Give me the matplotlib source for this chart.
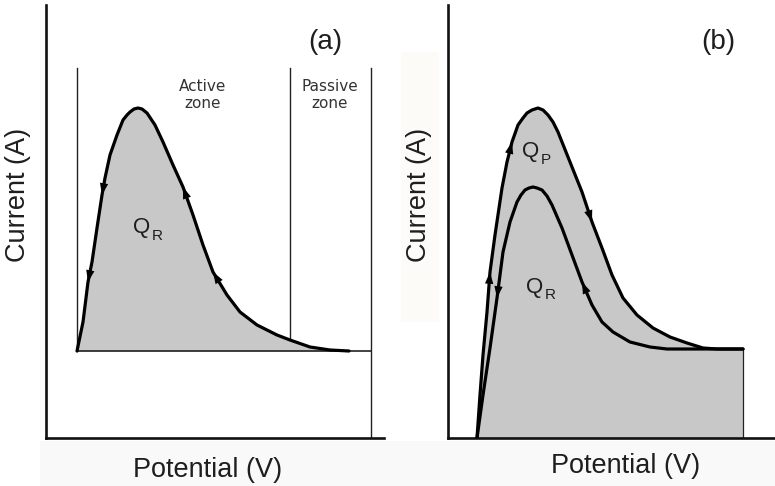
import matplotlib
matplotlib.use("Agg")
import matplotlib.pyplot as plt
from matplotlib.patches import Rectangle

# ---------------- data (arbitrary units) ----------------
# Panel (a): single reactivation curve
a_pot = [31, 37, 42, 46, 51, 56, 59, 64, 71, 77, 81, 84, 88, 92, 96, 101, 109, 117,
         127, 137, 147, 157, 167, 181, 194, 211, 231, 244, 264, 284, 303]
a_cur = [87, 116, 156, 176, 210, 243, 260, 283, 303, 318, 323, 326, 329, 330, 329,
         325, 313, 296, 273, 251, 223, 193, 166, 143, 126, 113, 103, 98, 91, 88, 87]
a_box_left, a_box_right, a_zone_split = 31, 325, 244
a_base, a_box_top = 87, 370

# Panel (b): outer (forward, Q_P) and inner (reverse, Q_R) curves
b_out_pot = [29, 32, 35, 39, 42, 47, 54, 59, 64, 70, 75, 79, 84, 90, 95, 100, 105,
             110, 122, 134, 144, 154, 164, 175, 189, 205, 222, 239, 255, 269, 295]
b_out_cur = [0, 43, 83, 126, 166, 203, 250, 276, 296, 313, 320, 325, 328, 330, 328,
             323, 316, 306, 276, 246, 216, 190, 163, 140, 123, 110, 101, 95, 90, 89, 89]
b_in_pot = [29, 35, 42, 49, 55, 62, 69, 73, 77, 81, 85, 89, 94, 99, 104, 114, 124,
            134, 144, 154, 165, 182, 202, 219, 245, 295]
b_in_cur = [0, 43, 90, 140, 186, 216, 236, 243, 248, 250, 251, 250, 248, 242, 233,
            210, 183, 156, 133, 116, 106, 96, 91, 89, 89, 89]

LABEL_FONT = ['Liberation Sans', 'DejaVu Sans']
FILL = '#c8c8c8'
TXT = '#1e1e1e'

W, H = 775, 486
fig = plt.figure(figsize=(W / 100, H / 100), dpi=100)
fig.patch.set_facecolor('white')

# faint background strips of the original image
bg = fig.add_axes([0, 0, 1, 1], zorder=-5)
bg.set_xlim(0, W); bg.set_ylim(H, 0); bg.axis('off')
bg.add_patch(Rectangle((40, 441), W - 40, 45, color='#f9f9f9', lw=0))
bg.add_patch(Rectangle((401, 52), 38, 270, color='#fdfbf8', lw=0))


def make_axes(px_left, px_right, px_top=5, px_bottom=438):
    ax = fig.add_axes([px_left / W, (H - px_bottom) / H,
                       (px_right - px_left) / W, (px_bottom - px_top) / H])
    ax.set_xlim(0, px_right - px_left)
    ax.set_ylim(0, px_bottom - px_top)
    ax.patch.set_alpha(0)
    for s in ('top', 'right'):
        ax.spines[s].set_visible(False)
    for s in ('left', 'bottom'):
        ax.spines[s].set_linewidth(1.9)
        ax.spines[s].set_color('#111111')
    ax.set_xticks([]); ax.set_yticks([])
    return ax


def arrow(ax, xs, ys, i, up):
    # arrow head placed on the curve segment between points i and i+1
    pa, pb = (xs[i], ys[i]), (xs[i + 1], ys[i + 1])
    lo, hi = (pa, pb) if pa[1] < pb[1] else (pb, pa)
    p0, p1 = (lo, hi) if up else (hi, lo)
    ax.annotate('', xy=p1, xytext=p0,
                arrowprops=dict(arrowstyle='-|>,head_length=0.85,head_width=0.3',
                                color='black', lw=0, shrinkA=0, shrinkB=0),
                zorder=6)


def curve(ax, xs, ys):
    ax.plot(xs, ys, color='black', lw=2.3, solid_joinstyle='round',
            solid_capstyle='round', zorder=3)


# ---------------- panel (a) ----------------
axa = make_axes(46, 384)
axa.fill_between(a_pot, a_cur, a_base, color=FILL, lw=0, zorder=1)
axa.plot([a_box_left, a_box_left], [a_base, a_box_top], color='#222', lw=1.0, zorder=2)
axa.plot([a_box_right, a_box_right], [0, a_box_top], color='#222', lw=1.0, zorder=2)
axa.plot([a_zone_split, a_zone_split], [a_cur[a_pot.index(a_zone_split)], a_box_top],
         color='#222', lw=1.0, zorder=2)
axa.plot([a_box_left, a_box_right], [a_base, a_base], color='#222', lw=1.2, zorder=2)
curve(axa, a_pot, a_cur)
arrow(axa, a_pot, a_cur, 5, up=False)
arrow(axa, a_pot, a_cur, 2, up=False)
arrow(axa, a_pot, a_cur, 19, up=True)
arrow(axa, a_pot, a_cur, 22, up=True)

axa.text(279, 396, '(a)', ha='center', va='center', fontsize=20,
         family=LABEL_FONT, color=TXT)
axa.text(157, 343, 'Active\nzone', ha='center', va='center', fontsize=11,
         color='#333', linespacing=1.1)
axa.text(284, 343, 'Passive\nzone', ha='center', va='center', fontsize=11,
         color='#333', linespacing=1.1)
axa.text(104, 210, 'Q', ha='right', va='center', fontsize=16,
         family=LABEL_FONT, color=TXT)
axa.text(106, 202, 'R', ha='left', va='center', fontsize=11,
         family=LABEL_FONT, color=TXT)
axa.set_ylabel('Current (A)', fontsize=19.5, family=LABEL_FONT, color=TXT)
axa.yaxis.set_label_coords(-0.044, 0.561)
axa.set_xlabel('Potential (V)', fontsize=19.5, family=LABEL_FONT, color=TXT)
axa.xaxis.set_label_coords(0.479, -0.044)

# ---------------- panel (b) ----------------
axb = make_axes(448, 775)
fill_x = b_out_pot + [b_out_pot[-1]]
fill_y = b_out_cur + [0]
axb.fill(fill_x, fill_y, color=FILL, lw=0, zorder=1)
axb.plot([b_out_pot[-1], b_out_pot[-1]], [0, b_out_cur[-1]], color='#222', lw=0.9, zorder=2)
curve(axb, b_out_pot, b_out_cur)
curve(axb, b_in_pot, b_in_cur)
arrow(axb, b_out_pot, b_out_cur, 3, up=True)
arrow(axb, b_out_pot, b_out_cur, 7, up=True)
arrow(axb, b_out_pot, b_out_cur, 19, up=False)
arrow(axb, b_in_pot, b_in_cur, 3, up=False)
arrow(axb, b_in_pot, b_in_cur, 17, up=True)

axb.text(270, 396, '(b)', ha='center', va='center', fontsize=20,
         family=LABEL_FONT, color=TXT)
axb.text(91, 286, 'Q', ha='right', va='center', fontsize=16,
         family=LABEL_FONT, color=TXT)
axb.text(93, 278, 'P', ha='left', va='center', fontsize=11,
         family=LABEL_FONT, color=TXT)
axb.text(95, 151, 'Q', ha='right', va='center', fontsize=16,
         family=LABEL_FONT, color=TXT)
axb.text(97, 143, 'R', ha='left', va='center', fontsize=11,
         family=LABEL_FONT, color=TXT)
axb.set_ylabel('Current (A)', fontsize=19.5, family=LABEL_FONT, color=TXT)
axb.yaxis.set_label_coords(-0.049, 0.561)
axb.set_xlabel('Potential (V)', fontsize=19.5, family=LABEL_FONT, color=TXT)
axb.xaxis.set_label_coords(0.544, -0.035)

fig.savefig('out.png', dpi=100)
